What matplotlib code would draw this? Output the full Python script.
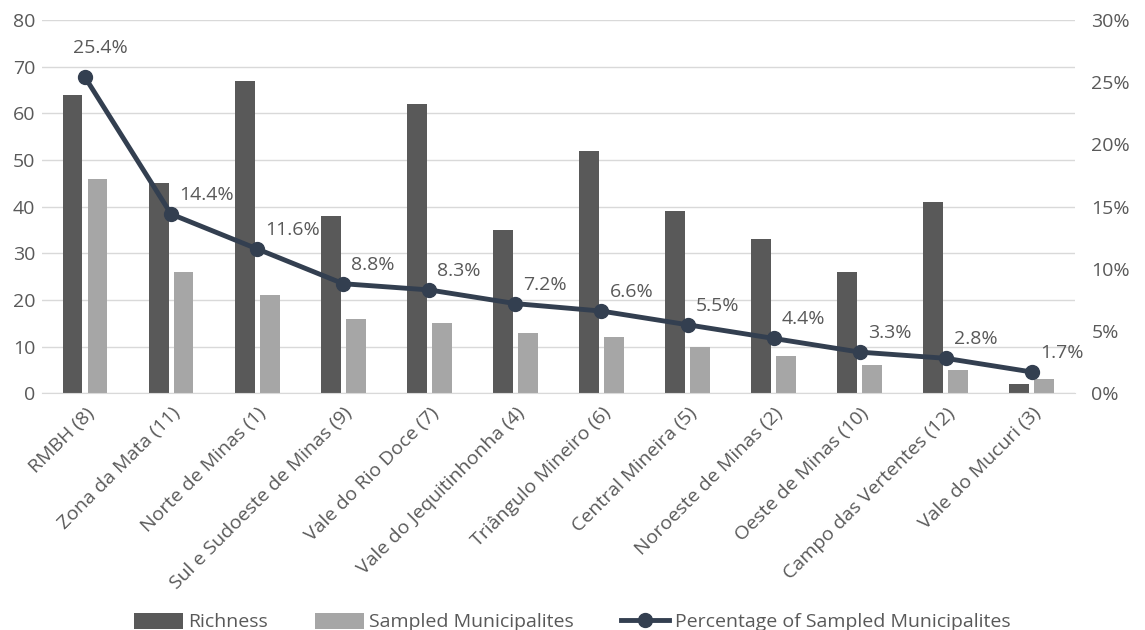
import matplotlib
matplotlib.use("Agg")
import matplotlib.pyplot as plt
import numpy as np
from matplotlib.ticker import FuncFormatter

regions = [
    "RMBH (8)", "Zona da Mata (11)", "Norte de Minas (1)", "Sul e Sudoeste de Minas (9)",
    "Vale do Rio Doce (7)", "Vale do Jequitinhonha (4)", "Triângulo Mineiro (6)",
    "Central Mineira (5)", "Noroeste de Minas (2)", "Oeste de Minas (10)",
    "Campo das Vertentes (12)", "Vale do Mucuri (3)",
]
richness = [64, 45, 67, 38, 62, 35, 52, 39, 33, 26, 41, 2]
sampled = [46, 26, 21, 16, 15, 13, 12, 10, 8, 6, 5, 3]
pct_sampled = [25.4, 14.4, 11.6, 8.8, 8.3, 7.2, 6.6, 5.5, 4.4, 3.3, 2.8, 1.7]

plt.rcParams["font.family"] = ["Open Sans", "DejaVu Sans"]
text_c = "#595959"
grid_c = "#d9d9d9"
fs = 14

fig = plt.figure(figsize=(11.45, 6.3), dpi=100)
ax = fig.add_axes([0.0367, 0.376, 0.902, 0.592])
ax2 = ax.twinx()

x = np.arange(len(regions))
w = 0.23
ax.bar(x - 0.145, richness, w, color="#595959", label="Richness", zorder=2)
ax.bar(x + 0.145, sampled, w, color="#a6a6a6", label="Sampled Municipalites", zorder=2)

frac = [p / 100 for p in pct_sampled]
ax2.plot(x, frac, color="#333f50", lw=3.5, marker="o", ms=10,
         label="Percentage of Sampled Municipalites", zorder=3)
for i, (xi, yi, p) in enumerate(zip(x, frac, pct_sampled)):
    if i == 0:
        ax2.annotate(f"{p:.1f}%", (xi, yi), xytext=(15, 20), textcoords="offset pixels",
                     ha="center", va="bottom", fontsize=fs, color=text_c)
    else:
        ax2.annotate(f"{p:.1f}%", (xi, yi), xytext=(8, 10), textcoords="offset pixels",
                     ha="left", va="bottom", fontsize=fs, color=text_c)

ax.set_xlim(-0.5, len(regions) - 0.5)
ax.set_ylim(0, 80)
ax.set_yticks(range(0, 81, 10))
ax2.set_ylim(0, 0.30)
ax2.set_yticks(np.arange(0, 0.31, 0.05))
ax2.yaxis.set_major_formatter(FuncFormatter(lambda v, _: f"{v * 100:.0f}%"))

ax.grid(axis="y", color=grid_c, lw=1, zorder=0)
for a in (ax, ax2):
    for s in a.spines.values():
        s.set_visible(False)
    a.tick_params(length=0, labelsize=fs, labelcolor=text_c)
ax.spines["bottom"].set_visible(True)
ax.spines["bottom"].set_color(grid_c)

ax.set_xticks(x)
ax.set_xticklabels(regions, rotation=45, ha="right", rotation_mode="anchor")
ax.tick_params(axis="x", pad=8)
ax.tick_params(axis="y", pad=5)
ax2.tick_params(axis="y", pad=12)

h1, l1 = ax.get_legend_handles_labels()
h2, l2 = ax2.get_legend_handles_labels()
fig.legend(h1 + h2, l1 + l2, loc="lower center", bbox_to_anchor=(0.5, -0.03), ncol=3,
           frameon=False, fontsize=fs, labelcolor=text_c, handlelength=2.5,
           handleheight=0.9, columnspacing=2.4, handletextpad=0.3)

fig.savefig("out.png", dpi=100)
